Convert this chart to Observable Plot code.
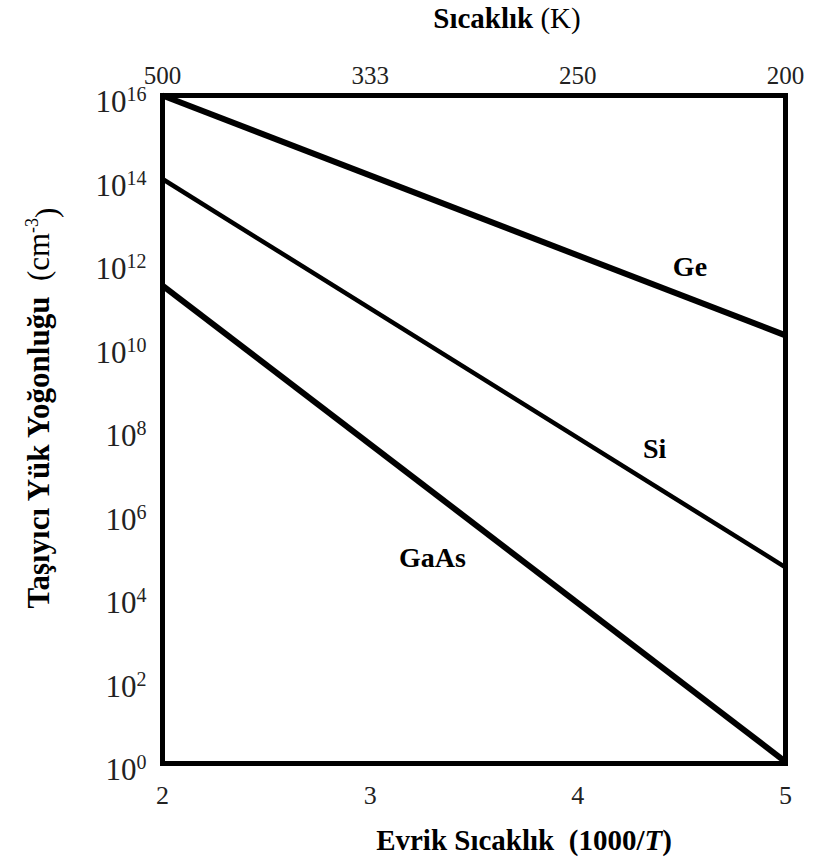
<!DOCTYPE html>
<html>
<head>
<meta charset="utf-8">
<script src="https://cdn.jsdelivr.net/npm/d3@7"></script>
<script src="https://cdn.jsdelivr.net/npm/@observablehq/plot@0.6"></script>
<style>
  html, body { margin: 0; padding: 0; background: #fff; }
</style>
</head>
<body>
<div id="chart"></div>
<script>
// ---- data ----
const xTicks = [2, 3, 4, 5];                       // 1000/T
const tempLabels = ["500", "333", "250", "200"];   // T (K)
const yExponents = [0, 2, 4, 6, 8, 10, 12, 14, 16];
const series = ["Ge", "Si", "GaAs"];
const xStart = [2, 2, 2];
const xEnd = [5, 5, 5];
const yStart = [1e16, 1e14, 2.8e11];
const yEnd = [1.8e10, 5e4, 1.1];
const labelX = [4.54, 4.37, 3.30];
const labelY = [8e11, 3.5e7, 8.5e4];

const lineData = series.flatMap((s, i) => [
  {series: s, x: xStart[i], y: yStart[i]},
  {series: s, x: xEnd[i], y: yEnd[i]}
]);
const labelData = series.map((s, i) => ({series: s, x: labelX[i], y: labelY[i]}));
const widthOf = {Ge: 6, Si: 4.5, GaAs: 6};
const FONT = "'Liberation Serif', 'Times New Roman', serif";

const chart = Plot.plot({
  width: 817,
  height: 866,
  marginLeft: 162,
  marginRight: 32,
  marginTop: 95,
  marginBottom: 103,
  style: {fontFamily: FONT, background: "#fff", color: "#222"},
  x: {domain: [2, 5]},
  y: {type: "log", domain: [1, 1e16]},
  marks: [
    Plot.axisX({anchor: "bottom", ticks: xTicks, tickSize: 0, tickPadding: 22,
      fontSize: 26, label: null, tickFormat: d => String(d)}),
    Plot.axisX({anchor: "top", ticks: xTicks, tickSize: 0, tickPadding: 12,
      fontSize: 25, label: null, tickFormat: d => tempLabels[xTicks.indexOf(d)]}),
    Plot.axisY({ticks: yExponents.map(e => Math.pow(10, e)), tickSize: 0, tickPadding: 16,
      fontSize: 31, dy: 7, label: null,
      tickFormat: d => "10^" + Math.round(Math.log10(d))}),
    ...series.map(s => Plot.line(lineData.filter(d => d.series === s),
      {x: "x", y: "y", stroke: "black", strokeWidth: widthOf[s], strokeLinecap: "butt"})),
    Plot.frame({stroke: "black", strokeWidth: 5}),
    Plot.text(labelData, {x: "x", y: "y", text: "series", fontSize: 28,
      fontWeight: "bold", fill: "black", fontFamily: FONT})
  ]
});

document.getElementById("chart").appendChild(chart);

const svgSel = d3.select(chart);
// superscripts on y tick labels
svgSel.selectAll("text").each(function() {
  const t = d3.select(this);
  const s = this.textContent;
  if (s.startsWith("10^")) {
    const exp = s.slice(3);
    t.text(null);
    t.append("tspan").text("10");
    t.append("tspan").attr("dy", "-0.55em").attr("font-size", "20px").text(exp);
  }
});

// axis titles
const topTitle = svgSel.append("text")
  .attr("x", 507).attr("y", 28)
  .attr("text-anchor", "middle")
  .attr("font-family", FONT).attr("font-size", 29).attr("fill", "black");
topTitle.append("tspan").attr("font-weight", "bold").text("Sıcaklık");
topTitle.append("tspan").text(" (K)");

const bottomTitle = svgSel.append("text")
  .attr("x", 524).attr("y", 850)
  .attr("text-anchor", "middle")
  .attr("font-family", FONT).attr("font-size", 29).attr("font-weight", "bold").attr("fill", "black");
bottomTitle.append("tspan").text("Evrik Sıcaklık  (1000/");
bottomTitle.append("tspan").attr("font-style", "italic").text("T");
bottomTitle.append("tspan").text(")");

const leftTitle = svgSel.append("text")
  .attr("transform", "translate(49,408) rotate(-90)")
  .attr("text-anchor", "middle")
  .attr("font-family", FONT).attr("font-size", 31).attr("fill", "black");
leftTitle.append("tspan").attr("font-weight", "bold").text("Taşıyıcı Yük Yoğonluğu");
leftTitle.append("tspan").text("\u00a0\u00a0(cm");
leftTitle.append("tspan").attr("dy", "-0.6em").attr("font-size", "18px").text("-3");
leftTitle.append("tspan").attr("dy", "0.6em").text(")");
</script>
</body>
</html>
